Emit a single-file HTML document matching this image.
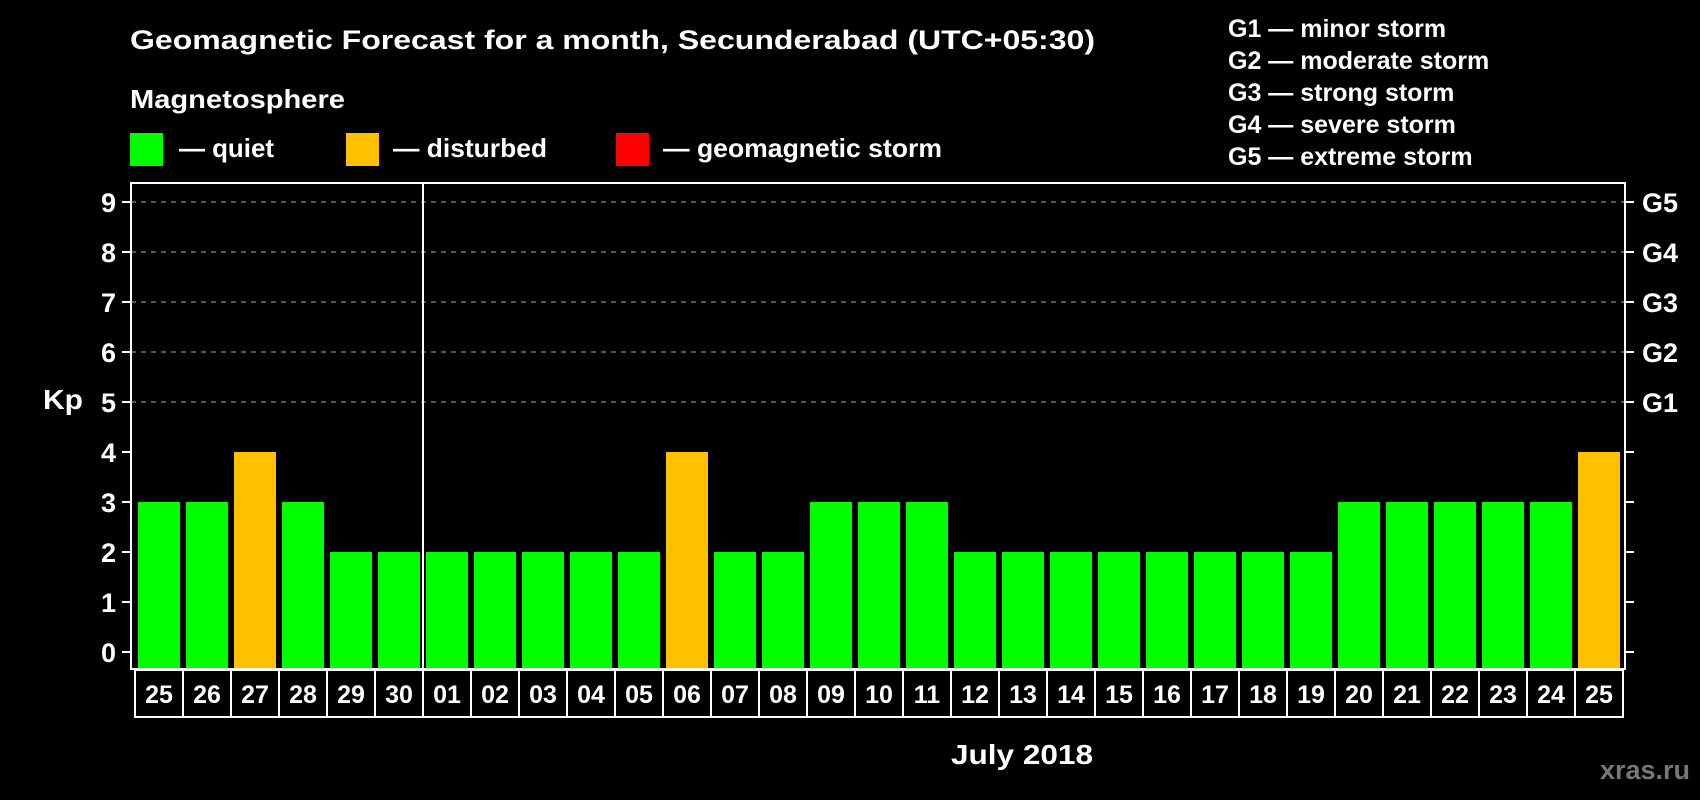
<!DOCTYPE html>
<html><head><meta charset="utf-8"><style>
html,body{margin:0;padding:0;background:#000;}
svg{display:block;font-family:"Liberation Sans",sans-serif;font-weight:bold;}
</style></head><body>
<svg id="chart" width="1700" height="800" viewBox="0 0 1700 800">
<text x="130" y="49" fill="#fff" font-size="27" textLength="965" lengthAdjust="spacingAndGlyphs">Geomagnetic Forecast for a month, Secunderabad (UTC+05:30)</text>
<text x="130" y="108" fill="#fff" font-size="26" textLength="215" lengthAdjust="spacingAndGlyphs">Magnetosphere</text>
<g><rect x="130" y="133" width="33" height="33" fill="#00ff00"/><text x="179" y="157" fill="#fff" font-size="26" textLength="95" lengthAdjust="spacingAndGlyphs">— quiet</text></g>
<g><rect x="346" y="133" width="33" height="33" fill="#ffc000"/><text x="393" y="157" fill="#fff" font-size="26" textLength="154" lengthAdjust="spacingAndGlyphs">— disturbed</text></g>
<g><rect x="616" y="133" width="33" height="33" fill="#ff0000"/><text x="663" y="157" fill="#fff" font-size="26" textLength="279" lengthAdjust="spacingAndGlyphs">— geomagnetic storm</text></g>
<g font-size="25" fill="#fff">
<text x="1228" y="37">G1 — minor storm</text>
<text x="1228" y="69">G2 — moderate storm</text>
<text x="1228" y="101">G3 — strong storm</text>
<text x="1228" y="133">G4 — severe storm</text>
<text x="1228" y="165">G5 — extreme storm</text>
</g>
<text x="43" y="409" fill="#fff" font-size="28" textLength="40" lengthAdjust="spacingAndGlyphs">Kp</text>
<text x="951" y="764" fill="#fff" font-size="28" textLength="142" lengthAdjust="spacingAndGlyphs">July 2018</text>
<text x="1690" y="779" fill="#777" font-size="27" text-anchor="end">xras.ru</text>
<g id="plot"></g>
</svg>
<script>
const days = ["25","26","27","28","29","30","01","02","03","04","05","06","07","08","09","10","11","12","13","14","15","16","17","18","19","20","21","22","23","24","25"];
const kp = [3,3,4,3,2,2,2,2,2,2,2,4,2,2,3,3,3,2,2,2,2,2,2,2,2,3,3,3,3,3,4];
const yTicks = [0,1,2,3,4,5,6,7,8,9];
const gLabels = ["G1","G2","G3","G4","G5"];
const gLevels = [5,6,7,8,9];
const monthBreak = 6;

const NS = "http://www.w3.org/2000/svg";
const plotG = document.getElementById("plot");
const pLeft = 131, pRight = 1625, pTop = 183, pBottom = 669;
const pitch = 48, barW = 42, barX0 = 138;
function yScale(v){ return 652 - v*50; }
function xScale(i){ return barX0 + i*pitch; }
function mk(tag, attrs){ const e = document.createElementNS(NS, tag); for (const k in attrs) e.setAttribute(k, attrs[k]); plotG.appendChild(e); return e; }
function color(v){ return v >= 5 ? "#ff0000" : (v >= 4 ? "#ffc000" : "#00ff00"); }

gLevels.forEach(v => {
  const l = mk("line", {x1:pLeft, x2:pRight, y1:yScale(v), y2:yScale(v), stroke:"#888", "stroke-width":1.2, "stroke-dasharray":"5,5"});
  
  
});
kp.forEach((v,i) => {
  const r = mk("rect", {x:xScale(i), y:yScale(v), width:barW, height:pBottom - 1 - yScale(v), fill:color(v)});
  
  
});
const frame = mk("rect", {x:pLeft, y:pTop, width:pRight-pLeft, height:pBottom-pTop, fill:"none", stroke:"#fff", "stroke-width":2});


const div = mk("line", {x1:xScale(monthBreak)-3, x2:xScale(monthBreak)-3, y1:pTop, y2:pBottom, stroke:"#fff", "stroke-width":2});


yTicks.forEach(v => {
  const t = mk("line", {x1:122, x2:pLeft, y1:yScale(v), y2:yScale(v), stroke:"#fff", "stroke-width":2});
  
  
  const t2 = mk("line", {x1:pRight, x2:pRight+9, y1:yScale(v), y2:yScale(v), stroke:"#fff", "stroke-width":2});
  
  
  const lb = mk("text", {x:116, y:yScale(v)+10, fill:"#fff", "font-size":27, "text-anchor":"end"});
  lb.textContent = v;
  
  
});
gLabels.forEach((g,i) => {
  const lb = mk("text", {x:1642, y:yScale(gLevels[i])+10, fill:"#fff", "font-size":27});
  lb.textContent = g;
  
  
});
days.forEach((d,i) => {
  const cx = xScale(i) - 3;
  const c = mk("rect", {x:cx, y:pBottom+1, width:pitch, height:47, fill:"none", stroke:"#fff", "stroke-width":2});
  
  
  const t = mk("text", {x:cx + pitch/2, y:pBottom+34, fill:"#fff", "font-size":25, "text-anchor":"middle"});
  t.textContent = d;
  
  
});
</script>
</body></html>
